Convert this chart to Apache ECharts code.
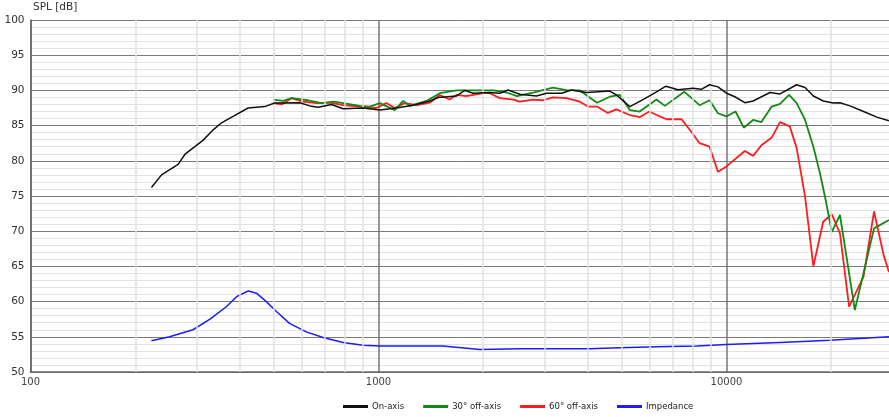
<!DOCTYPE html>
<html><head><meta charset="utf-8">
<script src="https://cdn.jsdelivr.net/npm/echarts@6/dist/echarts.min.js"></script>
<style>html,body{margin:0;padding:0;background:#fff}#c{width:889px;height:417px}</style>
</head><body><div id="c"></div>
<script>
const seriesNames = ['On-axis', '30° off-axis', '60° off-axis', 'Impedance'];
const xTickLabels = ['100', '1000', '10000'];
const minorFreq = [200,300,400,500,600,700,800,900,2000,3000,4000,5000,6000,7000,8000,9000,20000];

const onAxisFreq = [222.6,238,265.6,277.6,313,335,354,382,422,471,503,594,635,671,733,791,903,1009,1126,1257,1404,1484,1675,1770,1871,2089,2232,2357,2547,2844,3040,3357,3586,3961,4620,4829,5274,5758,6295,6700,7250,8010,8460,8940,9450,10000,10570,11290,11930,13330,14250,15910,16820,17770,18980,20270,21190,22640,24760,27050,29300];
const onAxisSpl = [76.2,78.0,79.5,80.9,82.9,84.4,85.4,86.3,87.5,87.7,88.2,88.25,87.8,87.6,88.0,87.4,87.5,87.2,87.5,87.9,88.5,89.0,89.2,90.0,89.6,89.7,89.6,90.05,89.45,89.2,89.6,89.6,90.05,89.7,89.9,89.35,87.7,88.7,89.8,90.6,90.1,90.3,90.15,90.8,90.5,89.6,89.1,88.25,88.5,89.7,89.5,90.8,90.4,89.2,88.5,88.2,88.25,87.8,87.0,86.2,85.7];

const off30Freq = [498,532,562,628,686,744,791,884,944,1009,1114,1177,1230,1374,1500,1675,2144,2334,2500,2780,3170,3470,3790,4245,4620,4940,5274,5630,6295,6650,7570,8370,8940,9450,10000,10620,11210,11930,12600,13490,14250,15130,15910,16820,17770,18570,19190,20080,21190,23380,26550,29300];
const off30Spl = [88.7,88.5,88.9,88.6,88.2,88.4,88.2,87.8,87.7,88.2,87.2,88.5,87.8,88.5,89.6,90.0,90.0,89.7,89.2,89.7,90.4,90.05,90.0,88.25,89.1,89.35,87.2,87.0,88.7,87.8,89.8,87.9,88.6,86.75,86.3,87.0,84.7,85.8,85.5,87.7,88.1,89.35,88.2,85.8,82.0,78.2,74.9,69.9,72.3,58.8,70.4,71.6];

const off60Freq = [498,527,562,607,663,726,791,884,985,1054,1114,1190,1286,1404,1500,1600,1675,1788,2000,2089,2232,2445,2547,2780,2975,3170,3470,3790,4000,4245,4560,4829,5274,5630,6000,6434,6724,7430,7930,8370,8940,9450,10000,11290,11930,12600,13490,14250,15200,15910,16820,17770,18960,20080,21190,22510,24760,26550,28290,29300];
const off60Spl = [88.2,88.0,88.9,88.4,88.2,88.25,87.9,87.7,87.5,88.2,87.5,88.2,87.9,88.25,89.35,88.7,89.35,89.2,89.6,89.6,88.9,88.7,88.4,88.7,88.6,89.0,88.9,88.4,87.7,87.7,86.8,87.3,86.5,86.2,87.0,86.3,85.9,85.9,84.1,82.5,82.0,78.45,79.2,81.4,80.7,82.2,83.3,85.5,84.9,81.8,74.9,65.0,71.35,72.4,69.7,59.3,63.5,72.8,66.6,64.2];

const impFreq = [222.6,251,293,328,366,391,422,446,476,509,555,620,693,791,903,1009,1532,1952,2547,4040,4940,6295,8220,10000,14250,19840,29300];
const impVal = [54.45,55.0,56.0,57.5,59.3,60.7,61.5,61.2,60.0,58.6,56.9,55.7,54.9,54.2,53.8,53.7,53.7,53.2,53.3,53.3,53.45,53.6,53.7,53.9,54.2,54.5,55.0];

const pairs = (f, v) => f.map((x, i) => [x, v[i]]);
const colors = ['#111111', '#138a13', '#ff1c1c', '#1c1cff'];

const chart = echarts.init(document.getElementById('c'), null, {renderer: 'canvas'});
chart.setOption({
  animation: false,
  backgroundColor: '#ffffff',
  title: {text: 'SPL [dB]', left: 33, top: 2, padding: 0,
    textStyle: {fontFamily: 'DejaVu Sans', fontSize: 10.5, fontWeight: 'normal', color: '#333'}},
  legend: {
    data: seriesNames, left: 343, top: 402, padding: 0, itemGap: 19,
    itemWidth: 25, itemHeight: 3, icon: 'rect',
    textStyle: {fontFamily: 'DejaVu Sans', fontSize: 8.5, color: '#222', padding: [0,0,0,-1]}
  },
  grid: {left: 30.5, top: 20, right: 0, height: 352, containLabel: false},
  xAxis: {
    type: 'log', logBase: 10, min: 100, max: 29310,
    axisLine: {show: true, lineStyle: {color: '#666', width: 1.5}},
    axisTick: {show: false},
    axisLabel: {fontFamily: 'DejaVu Sans', fontSize: 10, color: '#444', margin: 5, showMaxLabel: false,
      formatter: v => { const s = String(Math.round(v)); return xTickLabels.indexOf(s) >= 0 ? s : ''; }},
    splitLine: {show: true, showMaxLine: false, lineStyle: {color: '#777', width: 1.5}}
  },
  yAxis: {
    type: 'value', min: 50, max: 100, interval: 5,
    axisLine: {show: true, lineStyle: {color: '#666', width: 1.5}},
    axisTick: {show: false},
    axisLabel: {fontFamily: 'DejaVu Sans', fontSize: 10.5, color: '#333', margin: 6},
    splitLine: {show: true, lineStyle: {color: '#7a7a7a', width: 1}},
    minorTick: {show: false, splitNumber: 5},
    minorSplitLine: {show: true, lineStyle: {color: '#e2e2e2', width: 1}}
  },
  series: [
    {name: '_grid', type: 'line', data: [], z: -1, silent: true,
      markLine: {silent: true, symbol: 'none', label: {show: false}, animation: false,
        lineStyle: {color: '#e0e0e0', width: 1.5, type: 'solid'},
        emphasis: {disabled: true},
        data: minorFreq.map(f => ({xAxis: f}))}},
    {name: seriesNames[0], type: 'line', data: pairs(onAxisFreq, onAxisSpl), showSymbol: false, symbol: 'none',
      lineStyle: {color: colors[0], width: 1.5}, itemStyle: {color: colors[0]}, z: 5},
    {name: seriesNames[1], type: 'line', data: pairs(off30Freq, off30Spl), showSymbol: false, symbol: 'none',
      lineStyle: {color: colors[1], width: 1.8}, itemStyle: {color: colors[1]}, z: 4},
    {name: seriesNames[2], type: 'line', data: pairs(off60Freq, off60Spl), showSymbol: false, symbol: 'none',
      lineStyle: {color: colors[2], width: 1.8}, itemStyle: {color: colors[2]}, z: 3},
    {name: seriesNames[3], type: 'line', data: pairs(impFreq, impVal), showSymbol: false, symbol: 'none',
      lineStyle: {color: colors[3], width: 1.5}, itemStyle: {color: colors[3]}, z: 3}
  ]
});
</script></body></html>
